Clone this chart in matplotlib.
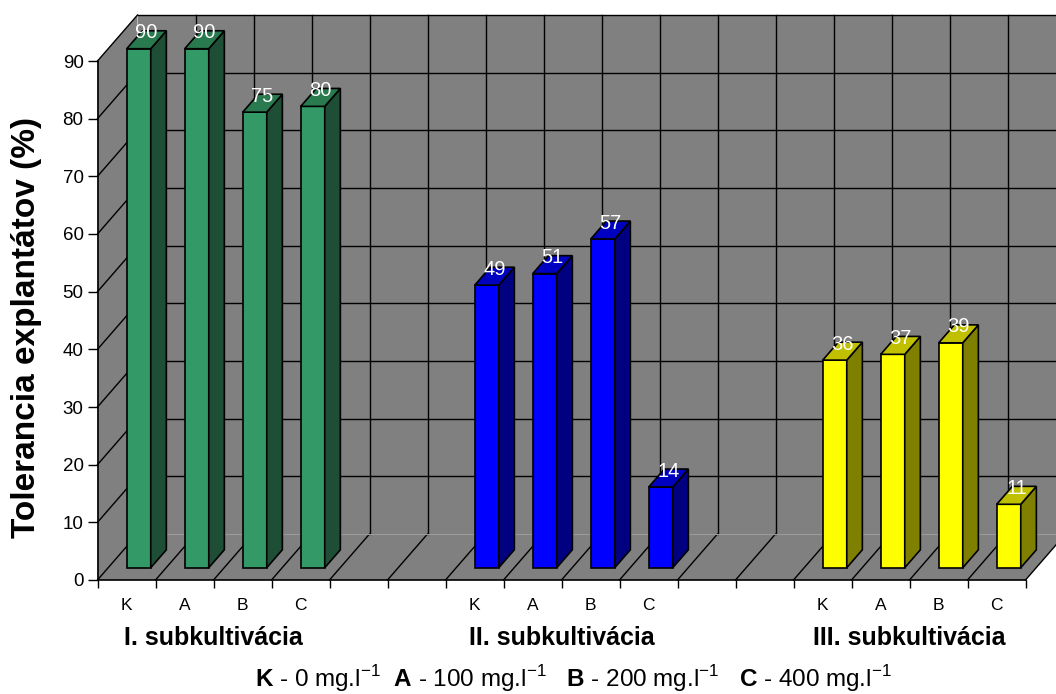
#GRAF: TOLERANCIA EXPLANTATOV V TROCH SUBKULTIVACIACH (3D STLPCE V STYLE EXCELU)

import numpy as np
import matplotlib.pyplot as plt
from matplotlib.patches import Polygon

#I)------DATA------#
kategorie = ['K', 'A', 'B', 'C']
skupiny = ['I. subkultivácia', 'II. subkultivácia', 'III. subkultivácia']
# vysky stlpcov odcitane z obrazka (stlpec "75" je v originali vyssi)
vysky_1 = [90, 90, 79, 80]
vysky_2 = [49, 51, 57, 14]
vysky_3 = [36, 37, 39, 11]
popisky_1 = ['90', '90', '75', '80']
popisky_2 = ['49', '51', '57', '14']
popisky_3 = ['36', '37', '39', '11']
vysky = [vysky_1, vysky_2, vysky_3]
popisky = [popisky_1, popisky_2, popisky_3]
y_ticky = [0, 10, 20, 30, 40, 50, 60, 70, 80, 90]

# farby: predna stena, bok, vrch
farby = [('#339966', '#1e4f36', '#2a7a50'),
         ('#0000ff', '#000080', '#0000c0'),
         ('#ffff00', '#808000', '#c0c000')]
siva = '#808080'

#II)------GEOMETRIA------#
plt.rcParams['font.family'] = ['Liberation Sans', 'DejaVu Sans']
plt.rcParams['mathtext.fontset'] = 'custom'
plt.rcParams['mathtext.rm'] = 'Liberation Sans'
plt.rcParams['mathtext.bf'] = 'Liberation Sans:bold'

n_slotov = 16          # 4 stlpce + 2 prazdne medzery na skupinu
ymax = 90
px_na_jednotku = 519 / ymax
Dx = 40 / 58           # hlbka steny v jednotkach x
Dy = 46 / px_na_jednotku
a, w = 0.32, 0.414     # posun a sirka stlpca v slote
f, d = 0.267, 0.39     # poloha a hlbka stlpca (podiel z hlbky)

fig = plt.figure(figsize=(10.56, 6.94), dpi=100, facecolor='white')
ax = fig.add_axes([97.5 / 1056, 114 / 694, 928 / 1056, 519 / 694])
ax.set_xlim(0, n_slotov)
ax.set_ylim(0, ymax)
ax.patch.set_visible(False)

#III)------STENY A MRIEZKA------#
zadna = Polygon([(Dx, Dy), (n_slotov + Dx, Dy), (n_slotov + Dx, ymax + Dy), (Dx, ymax + Dy)],
                closed=True, facecolor=siva, edgecolor='none', zorder=0, clip_on=False)
lava = Polygon([(0, 0), (Dx, Dy), (Dx, ymax + Dy), (0, ymax)],
               closed=True, facecolor=siva, edgecolor='none', zorder=0, clip_on=False)
podlaha = Polygon([(0, 0), (n_slotov, 0), (n_slotov + Dx, Dy), (Dx, Dy)],
                  closed=True, facecolor=siva, edgecolor='none', zorder=0, clip_on=False)
for p in (zadna, lava, podlaha):
    ax.add_patch(p)

for v in y_ticky[1:]:
    ax.plot([Dx, n_slotov + Dx], [v + Dy, v + Dy], color='black', lw=1, zorder=1, clip_on=False)
    ax.plot([0, Dx], [v, v + Dy], color='black', lw=1, zorder=1, clip_on=False)
for k in range(1, n_slotov + 1):
    ax.plot([k + Dx, k + Dx], [Dy, ymax + Dy], color='black', lw=1, zorder=1, clip_on=False)
for k in range(0, n_slotov + 1):
    ax.plot([k, k + Dx], [0, Dy], color='black', lw=1, zorder=1, clip_on=False)
ax.plot([Dx, n_slotov + Dx], [Dy, Dy], color='#9a9a9a', lw=0.8, zorder=1, clip_on=False)

#IV)------STLPCE------#
for g in range(len(skupiny)):
    for i, v in enumerate(vysky[g]):
        s = 6 * g + i
        x0 = s + a + f * Dx
        x1 = x0 + w
        y0 = f * Dy
        y1 = v + f * Dy
        ex, ey = d * Dx, d * Dy
        predna, bok, vrch = farby[g]
        casti = [
            ([(x0, y0), (x1, y0), (x1, y1), (x0, y1)], predna),
            ([(x1, y0), (x1 + ex, y0 + ey), (x1 + ex, y1 + ey), (x1, y1)], bok),
            ([(x0, y1), (x1, y1), (x1 + ex, y1 + ey), (x0 + ex, y1 + ey)], vrch),
        ]
        for body, farba in casti:
            ax.add_patch(Polygon(body, closed=True, facecolor=farba, edgecolor='black',
                                 lw=1.2, joinstyle='miter', zorder=3 + s, clip_on=False))
        ax.text((x0 + x1) / 2 + ex / 2, y1 + ey / 2 + 1.5 / px_na_jednotku, popisky[g][i],
                color='white', fontsize=14.5, ha='center', va='baseline', zorder=30)

#V)------OSI A TEXTY------#
ax.spines['top'].set_visible(False)
ax.spines['right'].set_visible(False)
ax.spines['left'].set_linewidth(1.2)
ax.spines['bottom'].set_linewidth(1.2)
ax.spines['left'].set_zorder(2)
ax.spines['bottom'].set_zorder(2)

ax.set_yticks(y_ticky)
ax.tick_params(axis='y', length=7, width=1, pad=3, labelsize=13.5)
ax.set_xticks(range(n_slotov + 1))
ax.set_xticklabels([])
ax.tick_params(axis='x', which='major', length=6, width=1)
stredy = [6 * g + i + 0.5 for g in range(len(skupiny)) for i in range(len(kategorie))]
ax.set_xticks(stredy, minor=True)
ax.set_xticklabels(kategorie * len(skupiny), minor=True)
ax.tick_params(axis='x', which='minor', length=0, pad=13, labelsize=12.5)

for g, nazov in enumerate(skupiny):
    ax.text(6 * g + 2, -65 / px_na_jednotku, nazov, fontsize=18, fontweight='bold',
            ha='center', va='baseline', clip_on=False)

legenda = (r'$\mathbf{K}$ - 0 mg.l$^{-1}$  $\mathbf{A}$ - 100 mg.l$^{-1}$   '
           r'$\mathbf{B}$ - 200 mg.l$^{-1}$   $\mathbf{C}$ - 400 mg.l$^{-1}$')
ax.text((574 - 98) / 58, -107 / px_na_jednotku, legenda, fontsize=17.5,
        ha='center', va='baseline', clip_on=False)

fig.text(27 / 1056, 1 - 328 / 694, 'Tolerancia explantátov (%)', rotation=90,
         fontsize=24, fontweight='bold', ha='center', va='center')

plt.savefig('out.png', dpi=100, facecolor='white')
